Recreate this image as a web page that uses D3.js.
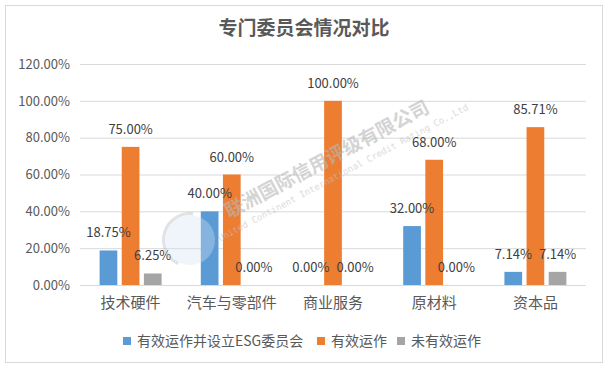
<meta charset="utf-8">
<title>专门委员会情况对比</title>
<style>
  body { margin: 0; background: #fff; }
  text { font-family: "Noto Sans CJK SC", "Noto Sans", sans-serif; }
</style>
<body>
<script src="https://cdn.jsdelivr.net/npm/d3@7/dist/d3.min.js"></script>
<script>

var width = 614;
var height = 371;
var margin = { top: 64, right: 28, bottom: 86, left: 80 };

var categories = ['技术硬件', '汽车与零部件', '商业服务', '原材料', '资本品'];
var seriesNames = ['有效运作并设立ESG委员会', '有效运作', '未有效运作'];
var seriesColors = ['#5B9BD5', '#ED7D31', '#A5A5A5'];
var esgValues = [18.75, 40, 0, 32, 7.14];
var effectiveValues = [75, 60, 100, 68, 85.71];
var ineffectiveValues = [6.25, 0, 0, 0, 7.14];
var yTicks = [0, 20, 40, 60, 80, 100, 120];

var allSeries = [esgValues, effectiveValues, ineffectiveValues];

var svg = d3.select('body')
  .append('svg')
  .attr('width', width)
  .attr('height', height);

// chart border
svg.append('rect')
  .attr('x', 5.5).attr('y', 5.5)
  .attr('width', 597).attr('height', 357)
  .style('fill', '#fff')
  .style('stroke', '#D9D9D9');

// title
svg.append('text')
  .attr('x', 304)
  .attr('y', 35)
  .attr('text-anchor', 'middle')
  .style('font-size', '19px')
  .style('font-weight', 'bold')
  .style('fill', '#595959')
  .text('专门委员会情况对比');

var x0 = d3.scaleBand()
  .domain(categories)
  .range([margin.left, width - margin.right]);

var x1 = d3.scaleBand()
  .domain(seriesNames)
  .range([-31, 31])
  .paddingInner(0.2);

var y = d3.scaleLinear()
  .domain([0, 120])
  .range([height - margin.bottom, margin.top]);

// gridlines
svg.append('g').selectAll('line')
  .data(yTicks)
  .enter()
  .append('line')
  .attr('x1', margin.left)
  .attr('x2', width - margin.right)
  .attr('y1', function(d){ return y(d) + 0.5; })
  .attr('y2', function(d){ return y(d) + 0.5; })
  .style('stroke', '#D9D9D9')
  .style('stroke-width', 1);

// y axis labels
var yAxis = d3.axisLeft(y)
  .tickValues(yTicks)
  .tickSize(0)
  .tickPadding(10)
  .tickFormat(function(d){ return d.toFixed(2) + '%'; });

var gY = svg.append('g')
  .attr('transform', 'translate(' + margin.left + ',0)')
  .call(yAxis);
gY.select('.domain').remove();
gY.selectAll('text')
  .style('font-size', '13px')
  .style('fill', '#595959')
  .style('font-family', '"Noto Sans CJK SC", "Noto Sans", sans-serif');

// x axis labels
var xAxis = d3.axisBottom(x0).tickSize(0).tickPadding(12);
var gX = svg.append('g')
  .attr('transform', 'translate(0,' + (height - margin.bottom) + ')')
  .call(xAxis);
gX.select('.domain').remove();
gX.selectAll('text')
  .style('font-size', '15px')
  .style('fill', '#595959')
  .style('font-family', '"Noto Sans CJK SC", "Noto Sans", sans-serif');

// bars
var groups = svg.append('g').selectAll('g')
  .data(categories)
  .enter()
  .append('g')
  .attr('transform', function(d){ return 'translate(' + (x0(d) + x0.bandwidth() / 2) + ',0)'; });

groups.selectAll('rect')
  .data(function(d, i){ return allSeries.map(function(s, j){ return { name: seriesNames[j], value: s[i], color: seriesColors[j] }; }); })
  .enter()
  .append('rect')
  .attr('x', function(d){ return x1(d.name); })
  .attr('y', function(d){ return y(d.value); })
  .attr('width', x1.bandwidth())
  .attr('height', function(d){ return y(0) - y(d.value); })
  .style('fill', function(d){ return d.color; });

groups.selectAll('text')
  .data(function(d, i){ return allSeries.map(function(s, j){ return { name: seriesNames[j], value: s[i] }; }); })
  .enter()
  .append('text')
  .attr('x', function(d){ return x1(d.name) + x1.bandwidth() / 2; })
  .attr('y', function(d){ return y(d.value) - 13; })
  .attr('text-anchor', 'middle')
  .style('font-size', '13px')
  .style('fill', '#404040')
  .text(function(d){ return d.value.toFixed(2) + '%'; });

// watermark (sits over the bars, faint)
var logo = svg.append('g')
  .attr('transform', 'translate(190,240)')
  .style('opacity', 0.35);
logo.append('circle')
  .attr('r', 25)
  .style('fill', '#D3E3F3');
logo.append('path')
  .attr('d', d3.arc()({ innerRadius: 25, outerRadius: 28, startAngle: 3.6, endAngle: 6.4 }))
  .style('fill', '#A9B1BA');

var wm = svg.append('g')
  .attr('transform', 'translate(330,165) rotate(-28)')
  .style('opacity', 0.6);
wm.append('text')
  .attr('x', 0).attr('y', 0)
  .attr('text-anchor', 'middle')
  .style('font-size', '19px')
  .style('font-weight', 'bold')
  .style('fill', '#B8B8B8')
  .text('联洲国际信用评级有限公司');
wm.append('text')
  .attr('x', 8).attr('y', 16)
  .attr('text-anchor', 'middle')
  .style('font-size', '9px')
  .style('font-family', '"DejaVu Sans Mono", monospace')
  .style('fill', '#C4C4C4')
  .text('United Continent International Credit Rating Co.,Ltd');

// legend
var legendX = [123, 317, 397];
var legend = svg.append('g').selectAll('g')
  .data(seriesNames)
  .enter()
  .append('g')
  .attr('transform', function(d, i){ return 'translate(' + legendX[i] + ',341)'; });

legend.append('rect')
  .attr('x', 0).attr('y', -4)
  .attr('width', 8).attr('height', 8)
  .style('fill', function(d, i){ return seriesColors[i]; });

legend.append('text')
  .attr('x', 14).attr('y', 5)
  .style('font-size', '14px')
  .style('fill', '#595959')
  .text(function(d){ return d; });

</script>
